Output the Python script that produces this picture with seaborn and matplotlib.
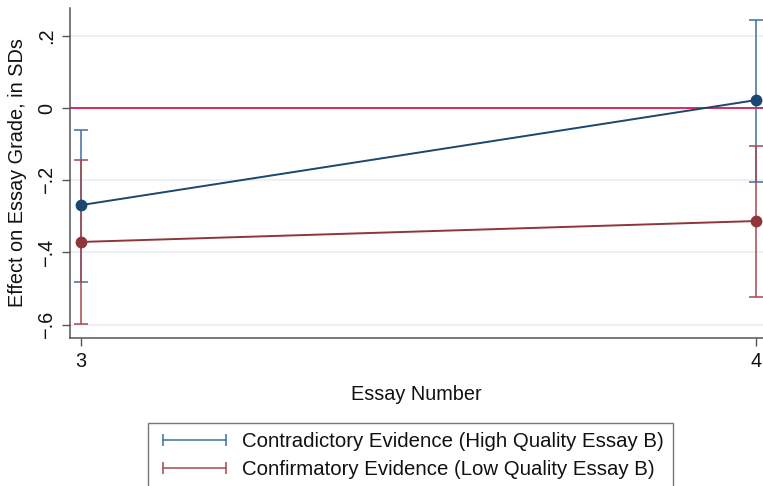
"""Effect of evidence type on essay grade, by essay number (Stata-style coefplot)."""

import matplotlib

matplotlib.use("Agg")
import matplotlib.pyplot as plt  # noqa: E402
import pandas as pd  # noqa: E402
import seaborn as sns  # noqa: E402
from matplotlib.lines import Line2D  # noqa: E402

essay = [3, 4]
groups = [
    "Contradictory Evidence (High Quality Essay B)",
    "Confirmatory Evidence (Low Quality Essay B)",
]
contra_est = [-0.269, 0.022]
contra_lo = [-0.482, -0.205]
contra_hi = [-0.061, 0.244]
confirm_est = [-0.371, -0.313]
confirm_lo = [-0.598, -0.524]
confirm_hi = [-0.144, -0.105]

y_ticks = [0.2, 0, -0.2, -0.4, -0.6]
y_tick_labels = [".2", "0", "\u2212.2", "\u2212.4", "\u2212.6"]

LINE_COLORS = ["#1a476f", "#90353b"]
CI_COLORS = ["#3f6f9e", "#a8474f"]

df = pd.DataFrame(
    {
        "essay": essay * 2,
        "est": contra_est + confirm_est,
        "lo": contra_lo + confirm_lo,
        "hi": contra_hi + confirm_hi,
        "group": [groups[0]] * 2 + [groups[1]] * 2,
    }
)

sns.set_style("white")
plt.rcParams["font.family"] = ["Liberation Sans", "DejaVu Sans"]

fig = plt.figure(figsize=(7.63, 4.86), dpi=100)
ax = fig.add_axes([70 / 763, 148 / 486, 1 - 70 / 763, (338 - 8) / 486])

for y in y_ticks:
    ax.axhline(y, color="#e6eef2", lw=1.2, zorder=0)
ax.axhline(0, color="#d81b4a", lw=1.3, zorder=1)

for g, ci_col in zip(groups, CI_COLORS):
    sub = df[df["group"] == g]
    ax.errorbar(
        sub["essay"],
        sub["est"],
        yerr=[sub["est"] - sub["lo"], sub["hi"] - sub["est"]],
        fmt="none",
        ecolor=ci_col,
        elinewidth=1.1,
        capsize=5,
        capthick=1.1,
        zorder=2,
    )

sns.lineplot(
    data=df,
    x="essay",
    y="est",
    hue="group",
    hue_order=groups,
    palette=LINE_COLORS,
    marker="o",
    markersize=8.5,
    markeredgewidth=0,
    linewidth=1.4,
    legend=False,
    ax=ax,
    zorder=3,
)

ax.set_xlim(2.984, 4.01)
ax.set_ylim(-0.637, 0.277)
ax.set_xticks(essay)
ax.set_xticklabels([str(e) for e in essay])
ax.set_yticks(y_ticks)
ax.set_yticklabels(y_tick_labels, rotation=90, va="center")
ax.tick_params(axis="both", direction="out", length=6, width=1, color="#555555",
               labelsize=14.3, pad=4, left=True, bottom=True, labelcolor="#111111")
ax.grid(False)
sns.despine(ax=ax)
for s in ("left", "bottom"):
    ax.spines[s].set_color("#555555")
    ax.spines[s].set_linewidth(1.1)

ax.set_xlabel("Essay Number", fontsize=14.3, labelpad=10, color="#111111")
ax.set_ylabel("Effect on Essay Grade, in SDs", fontsize=14.3, labelpad=7, color="#111111")

handles = [
    Line2D([0], [0], color=c, lw=1.1, marker="|", markersize=8, markeredgewidth=1.1)
    for c in CI_COLORS
]
leg = fig.legend(
    handles,
    groups,
    loc="upper left",
    bbox_to_anchor=(148 / 763, 1 - 423 / 486),
    numpoints=2,
    fontsize=14.7,
    frameon=True,
    fancybox=False,
    edgecolor="#555555",
    handlelength=3.65,
    handletextpad=0.5,
    borderpad=0.45,
    labelspacing=0.45,
    borderaxespad=0,
)
leg.get_frame().set_linewidth(1.0)
for t in leg.get_texts():
    t.set_color("#111111")

fig.savefig("out.png", dpi=100)
